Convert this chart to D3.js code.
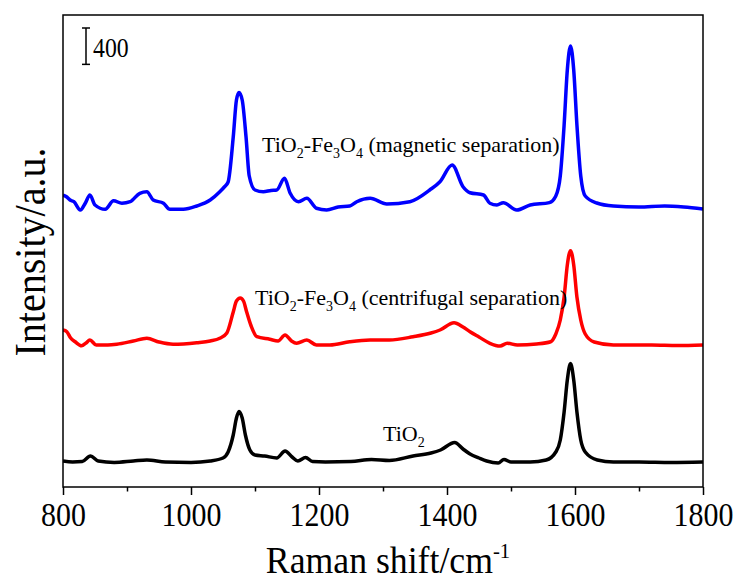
<!DOCTYPE html>
<html>
<head>
<meta charset="utf-8">
<style>
body { margin: 0; background: #fff; }
svg text { font-family: 'Liberation Serif', 'Times New Roman', Times, 'DejaVu Serif', serif; fill: #000; }
.axis .domain { display: none; }
.axis line { stroke: #000; stroke-width: 1.5; }
</style>
</head>
<body>
<svg width="742" height="581"></svg>
<script src="https://d3js.org/d3.v7.min.js"></script>
<script>
// Raman shift (cm-1) and intensity (a.u., stacked as in figure)
var tio2Shift = [800,815,830,843,855,880,910,931,960,1000,1030,1050,1058,1066,1071,1075,1080,1085,1092,1100,1115,1134,1147,1158,1167,1179,1190,1210,1250,1282,1310,1347,1375,1390,1412,1425,1436,1450,1462,1480,1489,1500,1530,1555,1570,1577,1583,1588,1593,1598,1603,1609,1616,1635,1660,1700,1750,1800];
var tio2Int = [286,275,280,341,286,270,286,297,275,270,286,319,385,572,759,831,759,572,407,352,341,319,396,330,286,325,280,275,280,303,292,341,374,407,490,418,363,319,286,264,303,275,275,297,385,517,825,1177,1359,1177,825,517,385,297,275,275,270,275];

var centShift = [800,806,812,819,829,836,842,852,870,884,910,931,950,972,1009,1030,1045,1056,1066,1071,1077,1082,1087,1094,1103,1123,1136,1147,1157,1165,1181,1196,1217,1248,1280,1310,1347,1375,1389,1411,1425,1436,1450,1467,1483,1494,1510,1540,1562,1570,1577,1583,1588,1593,1598,1603,1609,1616,1630,1660,1686,1720,1760,1800];
var centInt = [1727,1708,1639,1598,1554,1584,1617,1562,1562,1570,1606,1636,1595,1570,1587,1606,1636,1694,1925,2046,2079,2046,1925,1771,1653,1625,1606,1672,1606,1581,1617,1562,1562,1598,1617,1617,1653,1694,1727,1807,1760,1708,1650,1581,1551,1581,1562,1573,1598,1683,1837,2090,2442,2599,2442,2090,1837,1683,1595,1562,1562,1562,1556,1562];

var magShift = [800,806,811,817,827,835,842,850,866,879,892,905,920,931,941,957,967,988,1009,1030,1045,1052,1058,1066,1071,1075,1080,1086,1091,1100,1113,1125,1134,1146,1155,1168,1181,1196,1212,1230,1248,1259,1280,1306,1342,1373,1389,1408,1425,1436,1457,1467,1478,1488,1509,1530,1560,1570,1577,1583,1588,1593,1598,1603,1609,1616,1634,1660,1700,1740,1770,1800];
var magInt = [3212,3190,3157,3138,3047,3124,3212,3102,3055,3149,3121,3138,3231,3248,3157,3121,3055,3055,3091,3157,3248,3300,3355,3850,4257,4340,4257,3850,3421,3267,3248,3262,3267,3396,3231,3138,3176,3066,3047,3080,3091,3138,3176,3113,3138,3267,3358,3542,3303,3237,3212,3121,3102,3128,3047,3102,3128,3201,3421,3982,4587,4851,4587,3982,3421,3201,3124,3091,3080,3091,3080,3058];

var majorTicks = [800,1000,1200,1400,1600,1800];
var minorTicks = [900,1100,1300,1500,1700];
var scaleBarValue = 400;

var serif = "'Liberation Serif', 'Times New Roman', Times, 'DejaVu Serif', serif";

var svg = d3.select("svg"),
    margin = {top: 15, right: 39, bottom: 94, left: 63},
    width = 742 - margin.left - margin.right,
    height = 581 - margin.top - margin.bottom,
    g = svg.append("g").attr("transform", "translate(" + margin.left + "," + margin.top + ")");

var x = d3.scaleLinear().domain([800, 1800]).range([0, width]);
var y = d3.scaleLinear().domain([0, 5192]).range([height, 0]);

g.append("clipPath").attr("id", "clip")
  .append("rect").attr("width", width).attr("height", height);

function toPoints(xs, ys) {
  return xs.map(function(v, i) { return {x: v, y: ys[i]}; });
}

var line = d3.line()
    .x(function(d) { return x(d.x); })
    .y(function(d) { return y(d.y); })
    .curve(d3.curveMonotoneX);

var series = [
  {pts: toPoints(tio2Shift, tio2Int), color: "#000000"},
  {pts: toPoints(centShift, centInt), color: "#ff0000"},
  {pts: toPoints(magShift, magInt), color: "#0000ff"}
];

g.append("g").attr("clip-path", "url(#clip)")
  .selectAll("path")
  .data(series)
  .enter().append("path")
    .attr("fill", "none")
    .attr("stroke", function(d) { return d.color; })
    .attr("stroke-width", 3.5)
    .attr("stroke-linejoin", "round")
    .attr("d", function(d) { return line(d.pts); });

// frame
g.append("rect")
  .attr("width", width).attr("height", height)
  .attr("fill", "none").attr("stroke", "#000").attr("stroke-width", 1.5);

// bottom axis, major + minor ticks
var xAxis = g.append("g")
  .attr("class", "axis")
  .attr("transform", "translate(0," + height + ")")
  .call(d3.axisBottom(x).tickValues(majorTicks).tickSize(8).tickFormat(d3.format("d")));

xAxis.attr("font-family", null).attr("font-size", null);
xAxis.selectAll("text")
  .attr("y", 0).attr("dy", null)
  .attr("transform", "translate(0,39) scale(0.88,1)")
  .style("font-size", "34px")
  .style("font-family", serif);

g.append("g")
  .attr("class", "axis")
  .attr("transform", "translate(0," + height + ")")
  .call(d3.axisBottom(x).tickValues(minorTicks).tickSize(4.5).tickFormat(""));

// axis titles
var xt = svg.append("text")
  .attr("transform", "translate(388,573) scale(0.94,1)")
  .attr("text-anchor", "middle")
  .style("font-family", serif)
  .style("font-size", "38px");
xt.append("tspan").text("Raman shift/cm");
xt.append("tspan").attr("dy", -15).style("font-size", "22px").text("-1");

svg.append("text")
  .attr("transform", "translate(45,252) rotate(-90) scale(0.89,1)")
  .attr("text-anchor", "middle")
  .style("font-family", serif)
  .style("font-size", "45px")
  .text("Intensity/a.u.");

// scale bar
var barX = 86, barTop = 28;
var barLen = y(0) - y(scaleBarValue);
var bar = svg.append("g").attr("stroke", "#000").attr("stroke-width", 1.5);
bar.append("line").attr("x1", barX).attr("x2", barX).attr("y1", barTop).attr("y2", barTop + barLen);
bar.append("line").attr("x1", barX - 4).attr("x2", barX + 4).attr("y1", barTop).attr("y2", barTop);
bar.append("line").attr("x1", barX - 4).attr("x2", barX + 4).attr("y1", barTop + barLen).attr("y2", barTop + barLen);
svg.append("text")
  .attr("transform", "translate(93,57) scale(0.88,1)")
  .style("font-family", serif)
  .style("font-size", "27px")
  .text(scaleBarValue);

// curve labels; subscripts shifted down, following text shifted back up
function formulaLabel(xp, yp, parts) {
  var t = svg.append("text").attr("x", xp).attr("y", yp)
    .style("font-family", serif).style("font-size", "22px");
  var lowered = false;
  parts.forEach(function(p) {
    var s = t.append("tspan");
    if (p.sub) {
      s.attr("dy", lowered ? 0 : 6).style("font-size", "14px").text(p.sub);
      lowered = true;
    } else {
      s.attr("dy", lowered ? -6 : 0).text(p.t);
      lowered = false;
    }
  });
}

formulaLabel(262, 152, [{t: "TiO"}, {sub: "2"}, {t: "-Fe"}, {sub: "3"}, {t: "O"}, {sub: "4"}, {t: " (magnetic separation)"}]);
formulaLabel(255, 305, [{t: "TiO"}, {sub: "2"}, {t: "-Fe"}, {sub: "3"}, {t: "O"}, {sub: "4"}, {t: " (centrifugal separation)"}]);
formulaLabel(383, 441, [{t: "TiO"}, {sub: "2"}]);
</script>
</body>
</html>
